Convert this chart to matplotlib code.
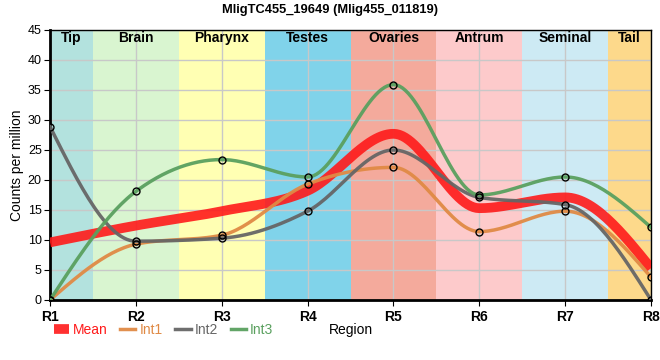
import numpy as np
import matplotlib
matplotlib.use("Agg")
import matplotlib.pyplot as plt

plt.rcParams['font.family'] = ['Liberation Sans', 'DejaVu Sans']

regions = ['R1', 'R2', 'R3', 'R4', 'R5', 'R6', 'R7', 'R8']
mean = [9.6, 12.4, 14.8, 18.2, 27.7, 15.3, 17.1, 5.3]
int1 = [0.0, 9.3, 10.8, 19.3, 22.1, 11.4, 14.8, 3.8]
int2 = [28.9, 9.8, 10.3, 14.8, 25.0, 17.1, 15.9, 0.0]
int3 = [0.0, 18.1, 23.4, 20.5, 35.9, 17.5, 20.5, 12.1]

bands = ['Tip', 'Brain', 'Pharynx', 'Testes', 'Ovaries', 'Antrum', 'Seminal', 'Tail']
band_colors = ['#b3e2de', '#d9f5d0', '#ffffb3', '#80d3ea', '#f4aa9c',
               '#fdcacb', '#cdeaf4', '#fdd98b']


def monotone(x, y, n=30):
    # monotone cubic spline (like d3.curveMonotoneX)
    x = np.asarray(x, float)
    y = np.asarray(y, float)
    h = np.diff(x)
    s = np.diff(y) / h
    t = np.zeros_like(y)
    for i in range(1, len(y) - 1):
        p = (s[i - 1] * h[i] + s[i] * h[i - 1]) / (h[i - 1] + h[i])
        t[i] = (np.sign(s[i - 1]) + np.sign(s[i])) * min(abs(s[i - 1]), abs(s[i]), 0.5 * abs(p))
    t[0] = (3 * s[0] - t[1]) / 2
    t[-1] = (3 * s[-1] - t[-2]) / 2
    xs, ys = [], []
    for i in range(len(x) - 1):
        u = np.linspace(0, 1, n)
        dx = h[i] / 3
        p0, p1 = y[i], y[i] + dx * t[i]
        p2, p3 = y[i + 1] - dx * t[i + 1], y[i + 1]
        xs.append(x[i] + u * h[i])
        ys.append((1 - u) ** 3 * p0 + 3 * (1 - u) ** 2 * u * p1 + 3 * (1 - u) * u ** 2 * p2 + u ** 3 * p3)
    return np.concatenate(xs), np.concatenate(ys)


fig = plt.figure(figsize=(6.6, 3.6), dpi=100)
ax = fig.add_axes([0.0758, 0.1667, 0.9106, 0.75])
xpos = np.arange(len(regions))

for i, (b, c) in enumerate(zip(bands, band_colors)):
    lo, hi = max(i - 0.5, 0), min(i + 0.5, len(regions) - 1)
    ax.axvspan(lo, hi, color=c, zorder=0, lw=0)
    ax.text((lo + hi) / 2, 43.6, b, ha='center', va='center', fontsize=10, fontweight='bold', zorder=5)

ax.grid(True, color='#c8c8c8', lw=1, zorder=1)
ax.set_axisbelow(True)

xs, ys = monotone(xpos, mean)
ax.plot(xs, ys, color='#ff1a1a', lw=7, alpha=0.9, zorder=3, solid_capstyle='butt', label='Mean')
for data, col, name in [(int1, '#e08a45', 'Int1'), (int2, '#666666', 'Int2'), (int3, '#5aa05f', 'Int3')]:
    xs, ys = monotone(xpos, data)
    ax.plot(xs, ys, color=col, lw=2.5, alpha=0.95, zorder=4, label=name)
    ax.plot(xpos, data, 'o', mfc='none', mec='black', ms=5, mew=1, zorder=6)

ax.set_xlim(0, 7)
ax.set_ylim(0, 45)
ax.set_xticks(xpos)
ax.set_xticklabels(regions, fontsize=10, fontweight='bold')
ax.set_yticks(range(0, 46, 5))
ax.tick_params(axis='y', labelsize=9, length=4, pad=2)
ax.tick_params(axis='x', length=4)
ax.set_ylabel('Counts per million', fontsize=10)
ax.yaxis.set_label_coords(-0.044, 0.5)
ax.set_xlabel('Region', fontsize=10)
ax.xaxis.set_label_coords(0.5, -0.11)
ax.xaxis.label.set_va('center')

for sp in ['left', 'bottom']:
    ax.spines[sp].set_linewidth(2)
for sp in ['top', 'right']:
    ax.spines[sp].set_linewidth(1)

fig.suptitle('MligTC455_19649 (Mlig455_011819)', fontsize=9.3, fontweight='bold', y=0.99)

leg = ax.legend(loc='center left', bbox_to_anchor=(-0.015, -0.11), ncol=4, frameon=False,
                fontsize=10, handlelength=1.1, columnspacing=0.9, handletextpad=0.3)
for txt, line in zip(leg.get_texts(), leg.get_lines()):
    txt.set_color(line.get_color())

fig.savefig('out.png', dpi=100)
